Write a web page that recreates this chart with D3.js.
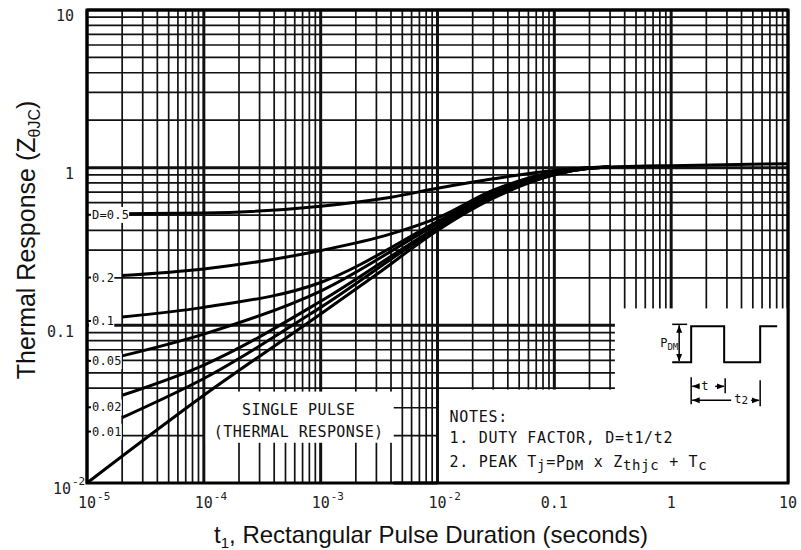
<!DOCTYPE html>
<html>
<head>
<meta charset="utf-8">
<script src="https://cdn.jsdelivr.net/npm/d3@7"></script>
<style>
  body { margin: 0; background: #fff; }
  svg { display: block; }
</style>
</head>
<body>
<div id="chart"></div>
<script>
// axis ticks
const xTicks = [1e-5, 1e-4, 1e-3, 1e-2, 0.1, 1, 10];
const xTickBase = ["10", "10", "10", "10", "0.1", "1", "10"];
const xTickExp = ["-5", "-4", "-3", "-2", "", "", ""];
const yTicks = [10, 1, 0.1, 0.01];
const yTickBase = ["10", "1", "0.1", "10"];
const yTickExp = ["", "", "", "-2"];

// curves, [t1 seconds, Z]
const singlePulse = [[1e-5, 0.01], [1e-4, 0.036], [1e-3, 0.118], [3e-3, 0.21], [1e-2, 0.40],
  [3e-2, 0.64], [0.1, 0.90], [0.2, 0.99], [0.5, 1.02], [1, 1.03], [10, 1.06]];
const duty001 = [[2e-5, 0.026], [1e-4, 0.046], [1e-3, 0.13], [1e-2, 0.41], [3e-2, 0.65], [0.1, 0.905], [0.2, 0.99], [0.3, 1.01]];
const duty002 = [[2e-5, 0.036], [1e-4, 0.056], [1e-3, 0.142], [1e-2, 0.42], [3e-2, 0.66], [0.1, 0.91], [0.2, 0.99], [0.3, 1.01]];
const duty005 = [[2e-5, 0.064], [1e-4, 0.088], [1e-3, 0.165], [1e-2, 0.44], [3e-2, 0.68], [0.1, 0.92], [0.2, 0.995], [0.3, 1.01]];
const duty01 = [[2e-5, 0.113], [1e-4, 0.13], [1e-3, 0.187], [1e-2, 0.455], [3e-2, 0.70], [0.1, 0.93], [0.2, 1.0], [0.3, 1.01]];
const duty02 = [[2e-5, 0.207], [1e-4, 0.228], [1e-3, 0.298], [4e-3, 0.38], [1e-2, 0.48], [3e-2, 0.72], [0.1, 0.94], [0.2, 1.0], [0.3, 1.01]];
const duty05 = [[2e-5, 0.51], [1e-4, 0.515], [1e-3, 0.57], [4e-3, 0.65], [1e-2, 0.74], [3e-2, 0.85], [0.1, 0.96], [0.2, 1.0], [0.3, 1.01]];
const dutyNames = ["D=0.5", "0.2", "0.1", "0.05", "0.02", "0.01"];
const dutyCurves = [duty05, duty02, duty01, duty005, duty002, duty001];

const W = 801, H = 550;
const svg = d3.select("#chart").append("svg").attr("width", W).attr("height", H);

const x = d3.scaleLog().domain([1e-5, 10]).range([87, 788]);
const y = d3.scaleLog().domain([0.01, 10]).range([483, 10]);
const [L, R] = x.range();
const [B, T] = y.range();

const mono = "'DejaVu Sans Mono', monospace";
const sans = "'Liberation Sans', Arial, Helvetica, sans-serif";
const isMajor = v => Math.abs(Math.log10(v) - Math.round(Math.log10(v))) < 1e-6;

// text with sub/superscript parts: [text, shift]
function rich(sel, parts, small) {
  let cur = 0;
  parts.forEach(([t, s]) => {
    const ts = sel.append("tspan").attr("dy", (s || 0) - cur).text(t);
    if (s) ts.attr("font-size", small);
    cur = s || 0;
  });
}

// grid
const grid = svg.append("g").attr("stroke", "#111");
const xGrid = x.ticks();
const yGrid = y.ticks();

grid.selectAll(".vx").data(xGrid).join("line")
  .attr("x1", d => x(d)).attr("x2", d => x(d))
  .attr("y1", T).attr("y2", B)
  .attr("stroke-width", d => isMajor(d) ? 3 : 1.7);

// horizontal lines; below 0.04 only short pieces between the text boxes
const hSegs = [];
yGrid.forEach(v => {
  if (v >= 0.035) hSegs.push([v, L, R]);
  else {
    hSegs.push([v, x(4.2e-3), x(1e-2)]);
    if (Math.abs(v - 0.02) < 1e-9) hSegs.push([v, x(2e-5), x(1e-4)]);
  }
});
grid.selectAll(".hy").data(hSegs).join("line")
  .attr("x1", d => d[1]).attr("x2", d => d[2])
  .attr("y1", d => y(d[0])).attr("y2", d => y(d[0]))
  .attr("stroke-width", d => isMajor(d[0]) ? 3 : 1.7);

// white boxes for notes / legend text
const masks = [
  [x(0.33), y(0.128), R, B],
  [x(1e-2) + 2, y(0.04) + 1.5, R, B],
  [x(1e-4) + 2, y(0.038), x(4.2e-3), y(0.018)]
];
svg.append("g").selectAll("rect").data(masks).join("rect")
  .attr("x", d => d[0]).attr("y", d => d[1])
  .attr("width", d => d[2] - d[0]).attr("height", d => d[3] - d[1])
  .attr("fill", "#fff");

// frame
svg.append("rect").attr("x", L).attr("y", T).attr("width", R - L).attr("height", B - T)
  .attr("fill", "none").attr("stroke", "#000").attr("stroke-width", 3);

// curves
const line = d3.line().x(d => x(d[0])).y(d => y(d[1])).curve(d3.curveMonotoneX);
const curves = svg.append("g").attr("fill", "none").attr("stroke", "#000")
  .attr("stroke-width", 3).attr("stroke-linejoin", "round");
curves.append("path").attr("d", line(singlePulse));
dutyCurves.forEach(c => curves.append("path").attr("d", line(c)));

// duty factor labels at the left edge
const labelShift = [1, 2, 4, 5, 12, 14];
const lab = svg.append("g").attr("font-family", mono).attr("font-size", 12).attr("fill", "#111");
dutyNames.forEach((name, i) => {
  const yy = y(dutyCurves[i][0][1]) + labelShift[i];
  const t = lab.append("text").attr("x", L + 5).attr("y", yy).attr("dy", "0.35em")
    .attr("letter-spacing", 0.2).text(name);
  const bb = t.node().getBBox();
  lab.insert("rect", "text").attr("x", L + 2).attr("y", bb.y - 1)
    .attr("width", bb.width + 3).attr("height", bb.height + 2).attr("fill", "#fff");
  lab.append("line").attr("x1", L).attr("x2", L + 4).attr("y1", yy).attr("y2", yy)
    .attr("stroke", "#000").attr("stroke-width", 2);
});

// tick labels
const ticks = svg.append("g").attr("font-family", mono).attr("fill", "#222");
xTicks.forEach((v, i) => {
  const t = ticks.append("text").attr("x", x(v)).attr("y", 508)
    .attr("text-anchor", "middle").attr("font-size", 15).text(xTickBase[i]);
  if (xTickExp[i]) {
    const w = t.node().getComputedTextLength();
    ticks.append("text").attr("x", x(v) + w / 2 + 1).attr("y", 500)
      .attr("font-size", 11).text(xTickExp[i]);
  }
});
yTicks.forEach((v, i) => {
  const right = yTickExp[i] ? 71 : 74;
  ticks.append("text").attr("x", right).attr("y", y(v) + 6).attr("dy", "0.35em")
    .attr("text-anchor", "end").attr("font-size", 15).text(yTickBase[i]);
  if (yTickExp[i]) {
    ticks.append("text").attr("x", right + 1).attr("y", y(v) + 2)
      .attr("font-size", 11).text(yTickExp[i]);
  }
});

// axis titles
const xt = svg.append("text").attr("x", 431).attr("y", 543).attr("text-anchor", "middle")
  .attr("font-family", sans).attr("font-size", 24).attr("fill", "#111");
rich(xt, [["t"], ["1", 5], [", Rectangular Pulse Duration (seconds)"]], 15);

const yt = svg.append("text").attr("transform", "translate(35,240) rotate(-90)")
  .attr("text-anchor", "middle").attr("font-family", sans).attr("font-size", 25).attr("fill", "#111");
rich(yt, [["Thermal Response (Z"], ["\u03b8JC", 5], [")"]], 16);

// single pulse note
const sp = svg.append("g").attr("font-family", mono).attr("font-size", 15)
  .attr("fill", "#111").attr("text-anchor", "middle");
const spx = (x(1e-4) + x(4.2e-3)) / 2;
sp.append("text").attr("x", spx).attr("y", 415).attr("letter-spacing", 0.4).text("SINGLE PULSE");
sp.append("text").attr("x", spx).attr("y", 437).attr("letter-spacing", 0.4).text("(THERMAL RESPONSE)");

// notes
const notes = svg.append("g").attr("font-family", mono).attr("font-size", 15)
  .attr("fill", "#111").attr("letter-spacing", 0.7);
const nx = x(1e-2) + 12;
notes.append("text").attr("x", nx).attr("y", B - 61).text("NOTES:");
notes.append("text").attr("x", nx).attr("y", B - 40).text("1. DUTY FACTOR, D=t1/t2");
rich(notes.append("text").attr("x", nx).attr("y", B - 16),
  [["2. PEAK T"], ["j", 3], ["=P"], ["DM", 3], [" x Z"], ["thjc", 3], [" + T"], ["c", 3]], 14);

// pulse sketch
const defs = svg.append("defs");
defs.append("marker").attr("id", "arr").attr("viewBox", "0 0 10 10")
  .attr("refX", 10).attr("refY", 5).attr("markerWidth", 5).attr("markerHeight", 5)
  .attr("orient", "auto-start-reverse")
  .append("path").attr("d", "M0,1L10,5L0,9z").attr("fill", "#000");

const ax = x(1), ay = y(0.1);
const pd = svg.append("g").attr("stroke", "#000").attr("fill", "none").attr("stroke-width", 1.5);
pd.append("path").attr("stroke-width", 2)
  .attr("d", `M${ax + 1},${ay + 37}H${ax + 20}V${ay + 1}H${ax + 53}V${ay + 37}H${ax + 89}V${ay + 1}H${ax + 106}`);
pd.append("line").attr("x1", ax + 1).attr("x2", ax + 16).attr("y1", ay - 1).attr("y2", ay - 1);
pd.append("line").attr("x1", ax + 8).attr("x2", ax + 8).attr("y1", ay).attr("y2", ay + 36)
  .attr("marker-start", "url(#arr)").attr("marker-end", "url(#arr)");
// t1 / t2 dimensions
pd.append("line").attr("x1", ax + 20).attr("x2", ax + 20).attr("y1", ay + 52).attr("y2", ay + 79);
pd.append("line").attr("x1", ax + 54).attr("x2", ax + 54).attr("y1", ay + 53).attr("y2", ay + 68);
pd.append("line").attr("x1", ax + 89).attr("x2", ax + 89).attr("y1", ay + 55).attr("y2", ay + 81);
pd.append("line").attr("x1", ax + 28).attr("x2", ax + 21).attr("y1", ay + 61).attr("y2", ay + 61).attr("marker-end", "url(#arr)");
pd.append("line").attr("x1", ax + 44).attr("x2", ax + 53).attr("y1", ay + 61).attr("y2", ay + 61).attr("marker-end", "url(#arr)");
pd.append("line").attr("x1", ax + 60).attr("x2", ax + 21).attr("y1", ay + 75).attr("y2", ay + 75).attr("marker-end", "url(#arr)");
pd.append("line").attr("x1", ax + 80).attr("x2", ax + 88).attr("y1", ay + 75).attr("y2", ay + 75).attr("marker-end", "url(#arr)");

const pt = svg.append("g").attr("font-family", mono).attr("fill", "#111");
rich(pt.append("text").attr("x", ax - 11).attr("y", ay + 22).attr("font-size", 12), [["P"], ["DM", 3]], 9);
pt.append("text").attr("x", ax + 30).attr("y", ay + 65).attr("font-size", 12).text("t");
rich(pt.append("text").attr("x", ax + 63).attr("y", ay + 78).attr("font-size", 12), [["t"], ["2", 1]], 11);
</script>
</body>
</html>
